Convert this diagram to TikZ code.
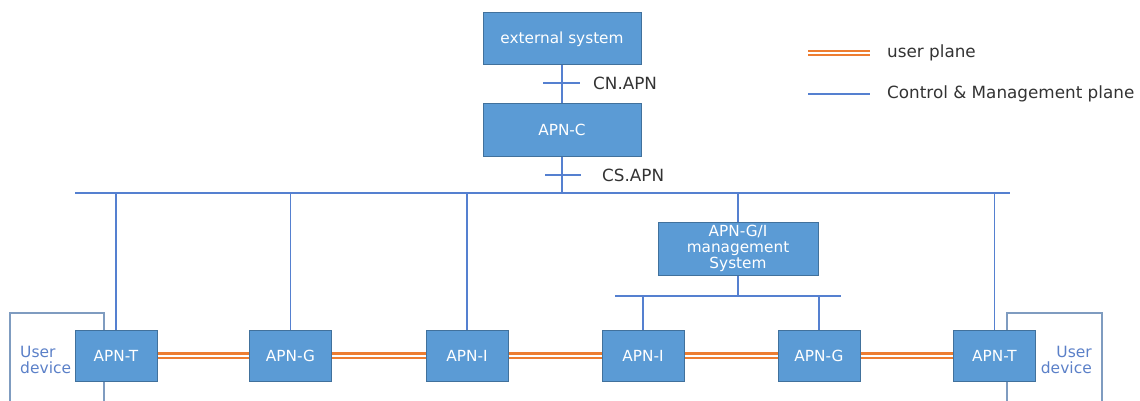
\documentclass[tikz,border=0pt]{standalone}
\usepackage{fontspec}
\setmainfont{DejaVu Sans}
\begin{document}
\begin{tikzpicture}[x=1pt,y=-1pt,
  box/.style={draw=boxborder, line width=1pt, fill=boxfill, text=white, inner sep=0pt, font=\fontsize{15.3}{16}\selectfont, align=center},
  bbox/.style={box, minimum width=82pt, minimum height=51pt},
  ctl/.style={draw=cmblue, line width=1.2pt},
  uplane/.style={draw=uporange, line width=2.2pt, double=white, double distance=2pt},
  udframe/.style={draw=udgray, line width=1.2pt},
  lbl/.style={inner sep=0pt, text=black!80, font=\fontsize{16.8}{18}\selectfont},
  udtext/.style={inner sep=0pt, text=udblue, font=\fontsize{15.5}{16.5}\selectfont}
]
\definecolor{boxfill}{HTML}{5B9BD5}
\definecolor{boxborder}{HTML}{41719C}
\definecolor{cmblue}{HTML}{5580D0}
\definecolor{uporange}{HTML}{ED7D31}
\definecolor{udgray}{HTML}{7F9CC0}
\definecolor{udblue}{HTML}{5B80C8}
\useasboundingbox (0,0) rectangle (1140,401);

% user device frames
\draw[udframe] (10,401) -- (10,313) -- (104,313) -- (104,401);
\draw[udframe] (1007,401) -- (1007,313) -- (1102,313) -- (1102,401);
\node[udtext, anchor=west, align=left] (udl) at (20,360) {User\\device};
\node[udtext, anchor=east, align=right] (udr) at (1092,360) {User\\device};

% top boxes
\node[box, minimum width=158pt, minimum height=52pt] (ext) at (562,39) {external system};
\node[box, minimum width=158pt, minimum height=52pt] (apnc) at (562,130) {APN-C};
\node[box, minimum width=160pt, minimum height=53pt] (mgmt) at (738,248.5) {APN-G/I\\management\\System};

% bottom boxes
\node[bbox] (t1) at (116,355.5) {APN-T};
\node[bbox] (g1) at (290.5,355.5) {APN-G};
\node[bbox] (i1) at (467,355.5) {APN-I};
\node[bbox] (i2) at (643,355.5) {APN-I};
\node[bbox] (g2) at (819,355.5) {APN-G};
\node[bbox] (t2) at (994.5,355.5) {APN-T};

% control lines
\draw[ctl] (ext) -- (apnc);
\coordinate (cnt) at (562,83);
\draw[ctl] ([xshift=-19pt]cnt) -- ([xshift=18pt]cnt);
\node[lbl, anchor=west] (cnl) at (593,83) {CN.APN};

\coordinate (busL) at (75,193);
\coordinate (busR) at (1010,193);
\draw[ctl] (busL) -- (busR);
\draw[ctl] (apnc.south) -- (apnc.south |- busL);
\coordinate (cst) at (563,175);
\draw[ctl] ([xshift=-18pt]cst) -- ([xshift=18pt]cst);
\node[lbl, anchor=west] (csl) at (602,175) {CS.APN};

\draw[ctl] (t1.north) -- (t1.north |- busL);
\draw[ctl] (g1.north) -- (g1.north |- busL);
\draw[ctl] (i1.north) -- (i1.north |- busL);
\draw[ctl] (mgmt.north) -- (mgmt.north |- busL);
\draw[ctl] (t2.north) -- (t2.north |- busL);

\coordinate (sbL) at (615,296);
\coordinate (sbR) at (841,296);
\draw[ctl] (sbL) -- (sbR);
\draw[ctl] (mgmt.south) -- (mgmt.south |- sbL);
\draw[ctl] (i2.north) -- (i2.north |- sbL);
\draw[ctl] (g2.north) -- (g2.north |- sbL);

% user plane
\draw[uplane] (t1.east) -- (g1.west);
\draw[uplane] (g1.east) -- (i1.west);
\draw[uplane] (i1.east) -- (i2.west);
\draw[uplane] (i2.east) -- (g2.west);
\draw[uplane] (g2.east) -- (t2.west);

% legend
\coordinate (lg1a) at (808,53);
\coordinate (lg1b) at (870,53);
\draw[uplane] (lg1a) -- (lg1b);
\node[lbl, anchor=west] (lgt1) at (887,53) {user plane};
\coordinate (lg2a) at (808,94);
\coordinate (lg2b) at (870,94);
\draw[ctl] (lg2a) -- (lg2b);
\node[lbl, anchor=west] (lgt2) at (887,94) {Control \& Management plane};
\end{tikzpicture}
\end{document}
